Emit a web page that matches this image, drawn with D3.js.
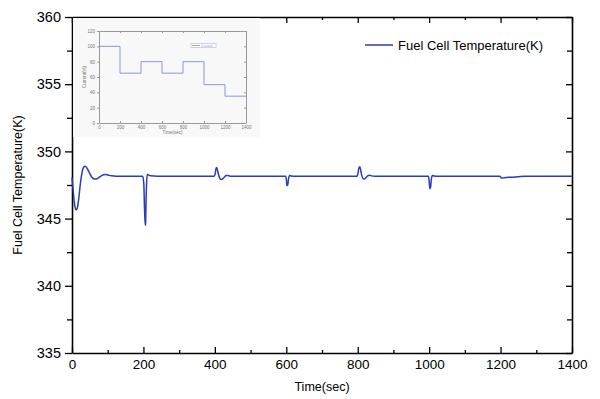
<!DOCTYPE html>
<html>
<head>
<meta charset="utf-8">
<script src="https://cdn.jsdelivr.net/npm/d3@7"></script>
<style>
  body { margin: 0; background: #fff; }
  svg { font-family: "Liberation Sans", Arial, sans-serif; }
</style>
</head>
<body>
<div id="chart"></div>
<script>
// main series: fuel cell temperature (K) vs time (sec)
const timeSec = [0, 3, 6, 9, 12, 15, 19, 23, 28, 33, 37, 42, 48, 55, 62, 68, 75, 83, 92, 100, 110, 125, 150,
  198, 201, 203, 205, 206, 207, 209, 211, 214, 220, 240,
  398, 401, 403, 405, 407, 410, 414, 418, 422, 427, 432, 437, 445, 460,
  598, 600, 602, 604, 606, 609, 614, 625,
  798, 801, 803, 806, 808, 811, 815, 819, 823, 828, 833, 839, 848, 860,
  998, 1000, 1002, 1004, 1006, 1009, 1014, 1025,
  1198, 1200, 1203, 1207, 1215, 1230, 1250, 1270, 1400];
const tempK = [348.05, 347.2, 346.3, 345.8, 345.65, 345.8, 346.5, 347.5, 348.4, 348.85, 348.9, 348.75, 348.45, 348.1, 347.95, 347.95, 348.05, 348.2, 348.28, 348.25, 348.18, 348.15, 348.15,
  348.15, 347.6, 345.8, 344.5, 344.6, 345.9, 347.7, 348.3, 348.25, 348.18, 348.15,
  348.15, 348.35, 348.7, 348.8, 348.65, 348.3, 348.0, 347.9, 347.95, 348.1, 348.2, 348.2, 348.15, 348.15,
  348.15, 347.95, 347.45, 347.5, 347.9, 348.2, 348.17, 348.15,
  348.15, 348.4, 348.75, 348.85, 348.65, 348.25, 347.98, 347.95, 348.05, 348.18, 348.22, 348.18, 348.15, 348.15,
  348.15, 347.8, 347.22, 347.35, 347.9, 348.2, 348.17, 348.15,
  348.15, 348.1, 348.02, 348.03, 348.06, 348.08, 348.12, 348.15, 348.15];
const xTicks = [0, 200, 400, 600, 800, 1000, 1200, 1400];
const yTicks = [335, 340, 345, 350, 355, 360];

// inset series: current (%) step profile
const insetTime = [0, 200, 200, 400, 400, 600, 600, 800, 800, 1000, 1000, 1200, 1200, 1400];
const insetCurrent = [100, 100, 65, 65, 80, 80, 65, 65, 80, 80, 50, 50, 35, 35];
const insetXTicks = [0, 200, 400, 600, 800, 1000, 1200, 1400];
const insetYTicks = [0, 20, 40, 60, 80, 100, 120];

const W = 600, H = 399;
const margin = {left: 72, right: 28, top: 17, bottom: 46};
const width = W - margin.left - margin.right;
const height = H - margin.top - margin.bottom;

const svg = d3.select('#chart').append('svg').attr('width', W).attr('height', H);
const g = svg.append('g').attr('transform', 'translate(' + margin.left + ',' + margin.top + ')');

const scaleX = d3.scaleLinear().domain([0, 1400]).range([0, width]);
const scaleY = d3.scaleLinear().domain([335, 360]).range([height, 0]);

// minor tick helpers
const xMinor = d3.range(100, 1400, 200);
const yMinor = d3.range(337.5, 360, 5);

// bottom axis (ticks inward)
g.append('g').attr('transform', 'translate(0,' + height + ')')
    .call(d3.axisBottom(scaleX).tickValues(xTicks).tickFormat(d3.format('d')).tickSize(-6).tickPadding(6).tickSizeOuter(0))
    .call(a => a.selectAll('text').attr('font-size', 13.5).attr('fill', '#000'));
g.append('g').attr('transform', 'translate(0,' + height + ')')
    .call(d3.axisBottom(scaleX).tickValues(xMinor).tickSize(-3).tickFormat('').tickSizeOuter(0))
    .call(a => a.select('.domain').remove());

// top axis
g.append('g')
    .call(d3.axisTop(scaleX).tickValues(xTicks).tickSize(-6).tickFormat('').tickSizeOuter(0));
g.append('g')
    .call(d3.axisTop(scaleX).tickValues(xMinor).tickSize(-3).tickFormat('').tickSizeOuter(0))
    .call(a => a.select('.domain').remove());

// left axis (ticks outward)
g.append('g')
    .call(d3.axisLeft(scaleY).tickValues(yTicks).tickSize(7).tickPadding(4).tickSizeOuter(0))
    .call(a => a.selectAll('text').attr('font-size', 14.5).attr('fill', '#000'));
g.append('g')
    .call(d3.axisLeft(scaleY).tickValues(yMinor).tickSize(5).tickFormat('').tickSizeOuter(0))
    .call(a => a.select('.domain').remove());

// right axis (ticks inward)
g.append('g').attr('transform', 'translate(' + width + ',0)')
    .call(d3.axisRight(scaleY).tickValues(yTicks).tickSize(-6).tickFormat('').tickSizeOuter(0));
g.append('g').attr('transform', 'translate(' + width + ',0)')
    .call(d3.axisRight(scaleY).tickValues(yMinor).tickSize(-5).tickFormat('').tickSizeOuter(0))
    .call(a => a.select('.domain').remove());

g.selectAll('.domain').attr('stroke', '#000').attr('stroke-width', 1.6);
g.selectAll('.tick line').attr('stroke', '#000').attr('stroke-width', 1.3);

// axis titles
svg.append('text')
    .attr('x', margin.left + width / 2).attr('y', 391)
    .attr('text-anchor', 'middle').attr('font-size', 12.5)
    .text('Time(sec)');
svg.append('text')
    .attr('transform', 'translate(22,' + (margin.top + height / 2) + ') rotate(-90)')
    .attr('text-anchor', 'middle').attr('font-size', 12.5)
    .text('Fuel Cell Temperature(K)');

// inset (pasted current profile)
const inset = svg.append('g');
inset.append('rect')
    .attr('x', margin.left + 1).attr('y', margin.top + 1)
    .attr('width', 187).attr('height', 119)
    .attr('fill', '#f8f8f8');
const iX = d3.scaleLinear().domain([0, 1400]).range([99, 246]);
const iY = d3.scaleLinear().domain([0, 120]).range([123, 31]);
inset.append('g').attr('transform', 'translate(0,123)')
    .call(d3.axisBottom(iX).tickValues(insetXTicks).tickFormat(d3.format('d')).tickSize(-2).tickPadding(3).tickSizeOuter(0));
inset.append('g').attr('transform', 'translate(0,31)')
    .call(d3.axisTop(iX).tickValues(insetXTicks).tickSize(-2).tickFormat('').tickSizeOuter(0));
inset.append('g').attr('transform', 'translate(99,0)')
    .call(d3.axisLeft(iY).tickValues(insetYTicks).tickSize(2).tickPadding(2).tickSizeOuter(0));
inset.append('g').attr('transform', 'translate(246,0)')
    .call(d3.axisRight(iY).tickValues(insetYTicks).tickSize(-2).tickFormat('').tickSizeOuter(0));
inset.selectAll('.domain').attr('stroke', '#9a9a9a').attr('stroke-width', 1);
inset.selectAll('.tick line').attr('stroke', '#9a9a9a');
inset.selectAll('.tick text').attr('font-size', 4.5).attr('fill', '#777');
inset.append('path')
    .datum(insetTime.map((t, i) => [t, insetCurrent[i]]))
    .attr('fill', 'none').attr('stroke', '#8a96dd').attr('stroke-width', 1)
    .attr('d', d3.line().x(d => iX(d[0])).y(d => iY(d[1])));
inset.append('text').attr('x', (99 + 246) / 2).attr('y', 134)
    .attr('text-anchor', 'middle').attr('font-size', 4.5).attr('fill', '#777').text('Time(sec)');
inset.append('text').attr('transform', 'translate(86,77) rotate(-90)')
    .attr('text-anchor', 'middle').attr('font-size', 4.5).attr('fill', '#777').text('Current(%)');
inset.append('rect').attr('x', 191).attr('y', 43.5).attr('width', 25).attr('height', 4)
    .attr('fill', '#fff').attr('stroke', '#b8c0ea').attr('stroke-width', 0.7);
inset.append('line').attr('x1', 192).attr('x2', 200).attr('y1', 45.5).attr('y2', 45.5)
    .attr('stroke', '#8a96dd').attr('stroke-width', 0.8);
inset.append('text').attr('x', 201).attr('y', 47).attr('font-size', 3.5).attr('fill', '#8a96dd').text('Current');

// main line
g.append('path')
    .datum(timeSec.map((t, i) => [t, tempK[i]]))
    .attr('fill', 'none')
    .attr('stroke', '#2a3cb8')
    .attr('stroke-width', 1.5)
    .attr('d', d3.line().x(d => scaleX(d[0])).y(d => scaleY(d[1])).curve(d3.curveMonotoneX));

// legend
svg.append('line').attr('x1', 365).attr('x2', 393).attr('y1', 45).attr('y2', 45)
    .attr('stroke', '#2a3cb8').attr('stroke-width', 1.5);
svg.append('text').attr('x', 398).attr('y', 49.5).attr('font-size', 13)
    .text('Fuel Cell Temperature(K)');
</script>
</body>
</html>
